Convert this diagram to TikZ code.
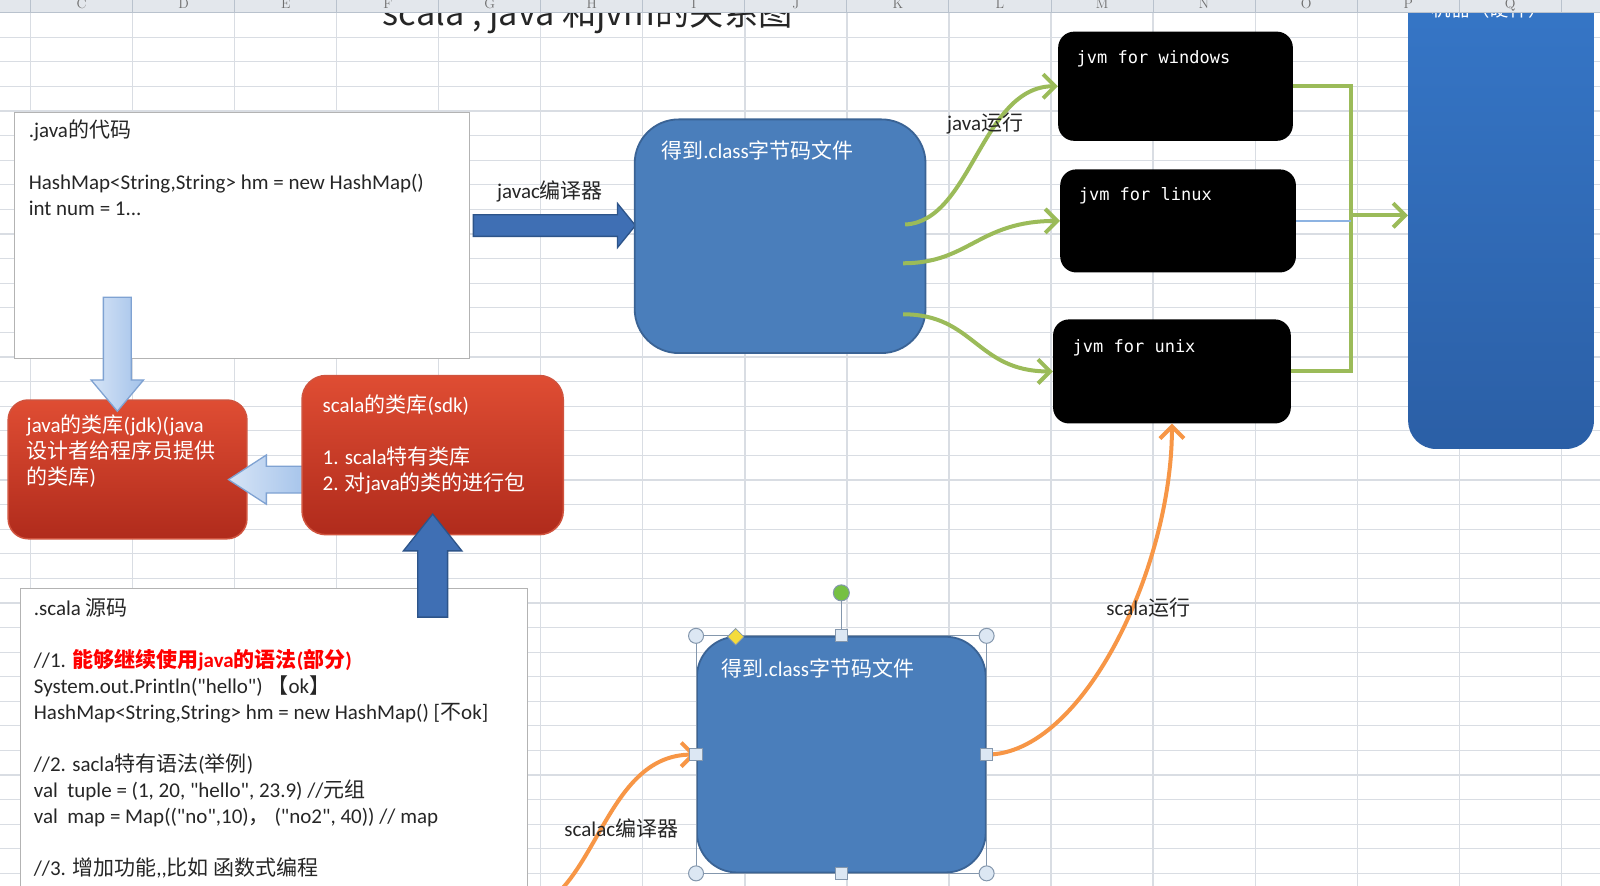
\documentclass[tikz,border=0pt]{standalone}
\usepackage{fontspec}
\newfontfamily\cjkfont{Noto Sans CJK SC}
\newfontfamily\latinfont{Carlito}
\newfontfamily\jvmfont{DejaVu Sans Mono}
\usetikzlibrary{positioning,fit,shapes.arrows,arrows.meta}

\definecolor{gridgray}{HTML}{D9DDE3}
\definecolor{headfill}{HTML}{E3E7EC}
\definecolor{headline}{HTML}{B9C2CD}
\definecolor{headtext}{HTML}{6E6E6E}
\definecolor{textdark}{HTML}{262626}
\definecolor{boxgray}{HTML}{B3B3B3}
\definecolor{redtop}{HTML}{DF4D33}
\definecolor{redbot}{HTML}{B02B1C}
\definecolor{rededge}{HTML}{D0533E}
\definecolor{paleblue}{HTML}{D6E4F6}
\definecolor{midblue}{HTML}{A3C2EA}
\definecolor{paleedge}{HTML}{7FA2D2}
\definecolor{classblue}{HTML}{4A7EBB}
\definecolor{classedge}{HTML}{3A6395}
\definecolor{arrowblue}{HTML}{3F6FB4}
\definecolor{arrowedge}{HTML}{2D5489}
\definecolor{hwtop}{HTML}{3779CB}
\definecolor{hwbot}{HTML}{2B5FA6}
\definecolor{rungreen}{HTML}{9BBB59}
\definecolor{runorange}{HTML}{F79646}
\definecolor{thinblue}{HTML}{8DB3E2}
\definecolor{handlefill}{HTML}{DCE7F3}
\definecolor{handleedge}{HTML}{8497AD}
\definecolor{rotgreen}{HTML}{76C043}
\definecolor{adjyellow}{HTML}{F5DB3C}

\newcommand\firstline{\rule{0pt}{20.4pt}}
\newcommand\zh[1]{{\cjkfont #1}}

\tikzset{
    cell/.style={draw=gridgray, line width=1.2pt},
    codebox/.style={draw=boxgray, fill=white, line width=1.3pt, inner sep=0pt},
    libbox/.style={top color=redtop, bottom color=redbot, draw=rededge, line width=1.5pt, rounded corners=20pt, inner sep=0pt},
    classbox/.style={fill=classblue, draw=classedge, line width=1.8pt, rounded corners=40pt, inner sep=0pt},
    jvmbox/.style={fill=black, rounded corners=16pt, inner sep=0pt},
    hwbox/.style={top color=hwtop, bottom color=hwbot, rounded corners=28pt, inner sep=0pt},
    txt/.style={anchor=base west, inner sep=0pt, text=textdark, font=\latinfont\fontsize{21}{26}\selectfont},
    para/.style={txt, anchor=north west, align=left},
    wpara/.style={para, text=white},
    jvmtxt/.style={anchor=base west, inner sep=0pt, text=white, font=\jvmfont\fontsize{17}{20}\selectfont},
    fat/.style={single arrow, single arrow head indent=0pt, inner xsep=0pt, line width=1.3pt},
    palearrow/.style={fat, left color=paleblue, right color=midblue, draw=paleedge},
    bluearrow/.style={fat, fill=arrowblue, draw=arrowedge},
    run/.style={line width=4pt, -{Straight Barb[length=12pt, width=24pt]}},
    handle/.style={fill=handlefill, draw=handleedge, line width=1pt},
}

\begin{document}
    \begin{tikzpicture}[x=1.0204pt, y=-1.0204pt]
        \path[use as bounding box, clip] ( 0, 0 ) rectangle ( 1568, 867.3 );
        \fill[white] ( 0, 0 ) rectangle ( 1568, 867.3 );

        % сетка
        \foreach \c in {0,...,15}
            \draw[cell] ( {30+100*\c}, 12 ) -- ( {30+100*\c}, 870 );
        \foreach \r in {1,...,36}
            \draw[cell] ( 0, {12.45+24.1*\r} ) -- ( 1568, {12.45+24.1*\r} );

        % заголовок
        \node[anchor=base west, inner sep=0pt, text=textdark, font=\cjkfont\fontsize{34.3}{40}\selectfont] (title) at ( 375, 25 ) {scala , java 和jvm的关系图};

        % .java
        \node[codebox, fit={( 14, 110 ) ( 460, 351 )}] (javasrc) {};
        \node[para] (javasrctxt) at ( 28, 115 ) {\firstline.java\zh{的代码}\\[26pt]HashMap<String,String> hm = new HashMap()\\int num = 1...};

        % библиотеки
        \node[libbox, fit={( 8, 392 ) ( 242, 528 )}] (jdk) {};
        \node[wpara] (jdktxt) at ( 26, 404 ) {\firstline java\zh{的类库}(jdk)(java\\\zh{设计者给程序员提供}\\\zh{的类库})};
        \node[palearrow, minimum height=81.6pt, minimum width=48pt, inner ysep=12.75pt, single arrow head extend=11.2pt, single arrow tip angle=66, rotate=180] (wrap) at ( 274, 470 ) {};
        \node[libbox, rounded corners=24pt, fit={( 296, 368 ) ( 552, 524 )}] (sdk) {};
        \node[wpara] (sdktxt) at ( 316, 384 ) {\firstline scala\zh{的类库}(sdk)\\[26pt]1. scala\zh{特有类库}\\2. \zh{对}java\zh{的类的进行包}};
        \node[palearrow, minimum height=114pt, minimum width=51pt, inner ysep=13.3pt, single arrow head extend=12.3pt, single arrow tip angle=80, rotate=-90] (usejdk) at ( 115, 339 ) {};

        % .scala
        \node[codebox, fit={( 20, 577 ) ( 517, 900 )}] (scalasrc) {};
        \node[para] (scalasrctxt) at ( 33, 583 ) {\firstline.scala \zh{源码}\\[26pt]//1. {\color{red}\bfseries\zh{能够继续使用}java\zh{的语法}(\zh{部分})}\\System.out.Println("hello") \zh{【}ok\zh{】}\\HashMap<String,String> hm = new HashMap() [\zh{不}ok]\\[26pt]//2. sacla\zh{特有语法}(\zh{举例})\\val~ tuple = (1, 20, "hello", 23.9) //\zh{元组}\\val~ map = Map(("no",10)\zh{，} ("no2", 40)) // map\\[26pt]//3. \zh{增加功能},,\zh{比如 函数式编程}};
        \node[bluearrow, minimum height=103pt, minimum width=57pt, inner ysep=14.3pt, single arrow head extend=14.3pt, single arrow tip angle=77, rotate=90] (tosdk) at ( 424, 563.5 ) {};

        % javac
        \node[bluearrow, minimum height=162pt, minimum width=42.8pt, inner ysep=10.2pt, single arrow head extend=11.2pt, single arrow tip angle=102] (javac) at ( 539, 221 ) {};
        \node[txt] (javactxt) at ( 487, 195 ) {javac\zh{编译器}};

        % .class
        \node[classbox, rounded corners=44pt, fit={( 622, 117 ) ( 907, 346 )}] (cls1) {};
        \node[txt, text=white] (cls1txt) at ( 648, 155 ) {\zh{得到}.class\zh{字节码文件}};
        \node[classbox, fit={( 683, 624 ) ( 966, 855 )}] (cls2) {};
        \node[txt, text=white] (cls2txt) at ( 707, 663 ) {\zh{得到}.class\zh{字节码文件}};

        % jvm
        \node[jvmbox, fit={( 1037, 31 ) ( 1267, 138 )}] (win) {};
        \node[jvmtxt] (wintxt) at ( 1055, 62 ) {jvm for windows};
        \node[jvmbox, fit={( 1039, 166 ) ( 1270, 267 )}] (lin) {};
        \node[jvmtxt] (lintxt) at ( 1057, 196 ) {jvm for linux};
        \node[jvmbox, fit={( 1032, 313 ) ( 1265, 415 )}] (unx) {};
        \node[jvmtxt] (unxtxt) at ( 1051, 345 ) {jvm for unix};

        % железо
        \node[hwbox, fit={( 1380, -60 ) ( 1562, 440 )}] (hw) {};
        \node[anchor=base, inner sep=0pt, text=white, font=\cjkfont\fontsize{19.4}{22}\selectfont] (hwtxt) at ( 1460, 16 ) {机器（硬件）};

        % java运行
        \coordinate (out1) at ( 887, 220 );
        \coordinate (out2) at ( 885, 258 );
        \coordinate (out3) at ( 885, 308 );
        \draw[run, rungreen] (out1) .. controls +(65,-3) and +(-75,0) .. (win.west);
        \draw[run, rungreen] (out2) .. controls +(65,0) and +(-80,0) .. (lin.west);
        \draw[run, rungreen] (out3) .. controls +(70,0) and +(-75,0) .. (unx.west);
        \node[txt] (javarun) at ( 928, 128 ) {java\zh{运行}};

        % jvm -> железо
        \coordinate (bus) at ( 1324, 211 );
        \draw[rungreen, line width=4pt] (win.east) -| (bus);
        \draw[rungreen, line width=4pt] (unx.east) -| (bus);
        \draw[thinblue, line width=1.2pt] (lin.east) -- (lin.east -| bus);
        \draw[run, rungreen] (bus) -- (hw.west |- bus);

        % scalac, scala运行
        \coordinate (scalacin) at ( 526, 890 );
        \draw[run, runorange] (scalacin) .. controls +(60,-28) and +(-86,0) .. (cls2.west);
        \node[txt] (scalactxt) at ( 553, 820 ) {scalac\zh{编译器}};
        \draw[run, runorange] (cls2.east) .. controls +(94,0) and +(0,142) .. (unx.south);
        \node[txt] (scalarun) at ( 1084, 603 ) {scala\zh{运行}};

        % маркеры выделения
        \draw[handleedge, line width=0.8pt] (cls2.north west) rectangle (cls2.south east);
        \draw[handleedge, line width=1.5pt] (cls2.north) -- ( 824.5, 589 );
        \foreach \a in {north west, north east, south west, south east}
            \draw[handle] (cls2.\a) circle (7.5pt);
        \foreach \a in {north, south, east, west}
            \draw[handle] ([shift={(-6,-6)}]cls2.\a) rectangle +(12,12);
        \draw[fill=rotgreen, draw=handleedge, line width=1pt] ( 824.5, 581 ) circle (8pt);
        \draw[fill=adjyellow, draw=handleedge, line width=0.8pt] ( 713, 624 ) -- ( 721, 616 ) -- ( 729, 624 ) -- ( 721, 632 ) -- cycle;

        % шапка
        \fill[headfill] ( 0, 0 ) rectangle ( 1568, 12.45 );
        \draw[headline, line width=1.2pt] ( 0, 12.45 ) -- ( 1568, 12.45 );
        \foreach \c in {0,...,15}
            \draw[headline, line width=1pt] ( {30+100*\c}, 0 ) -- ( {30+100*\c}, 12.45 );
        \foreach \l [count=\i from 0] in {C,D,E,F,G,H,I,J,K,L,M,N,O,P,Q}
            \node[anchor=base, inner sep=0pt, text=headtext, font=\fontsize{14}{16}\selectfont] (col\l) at ( {80+100*\i}, 8 ) {\l};
    \end{tikzpicture}
\end{document}
